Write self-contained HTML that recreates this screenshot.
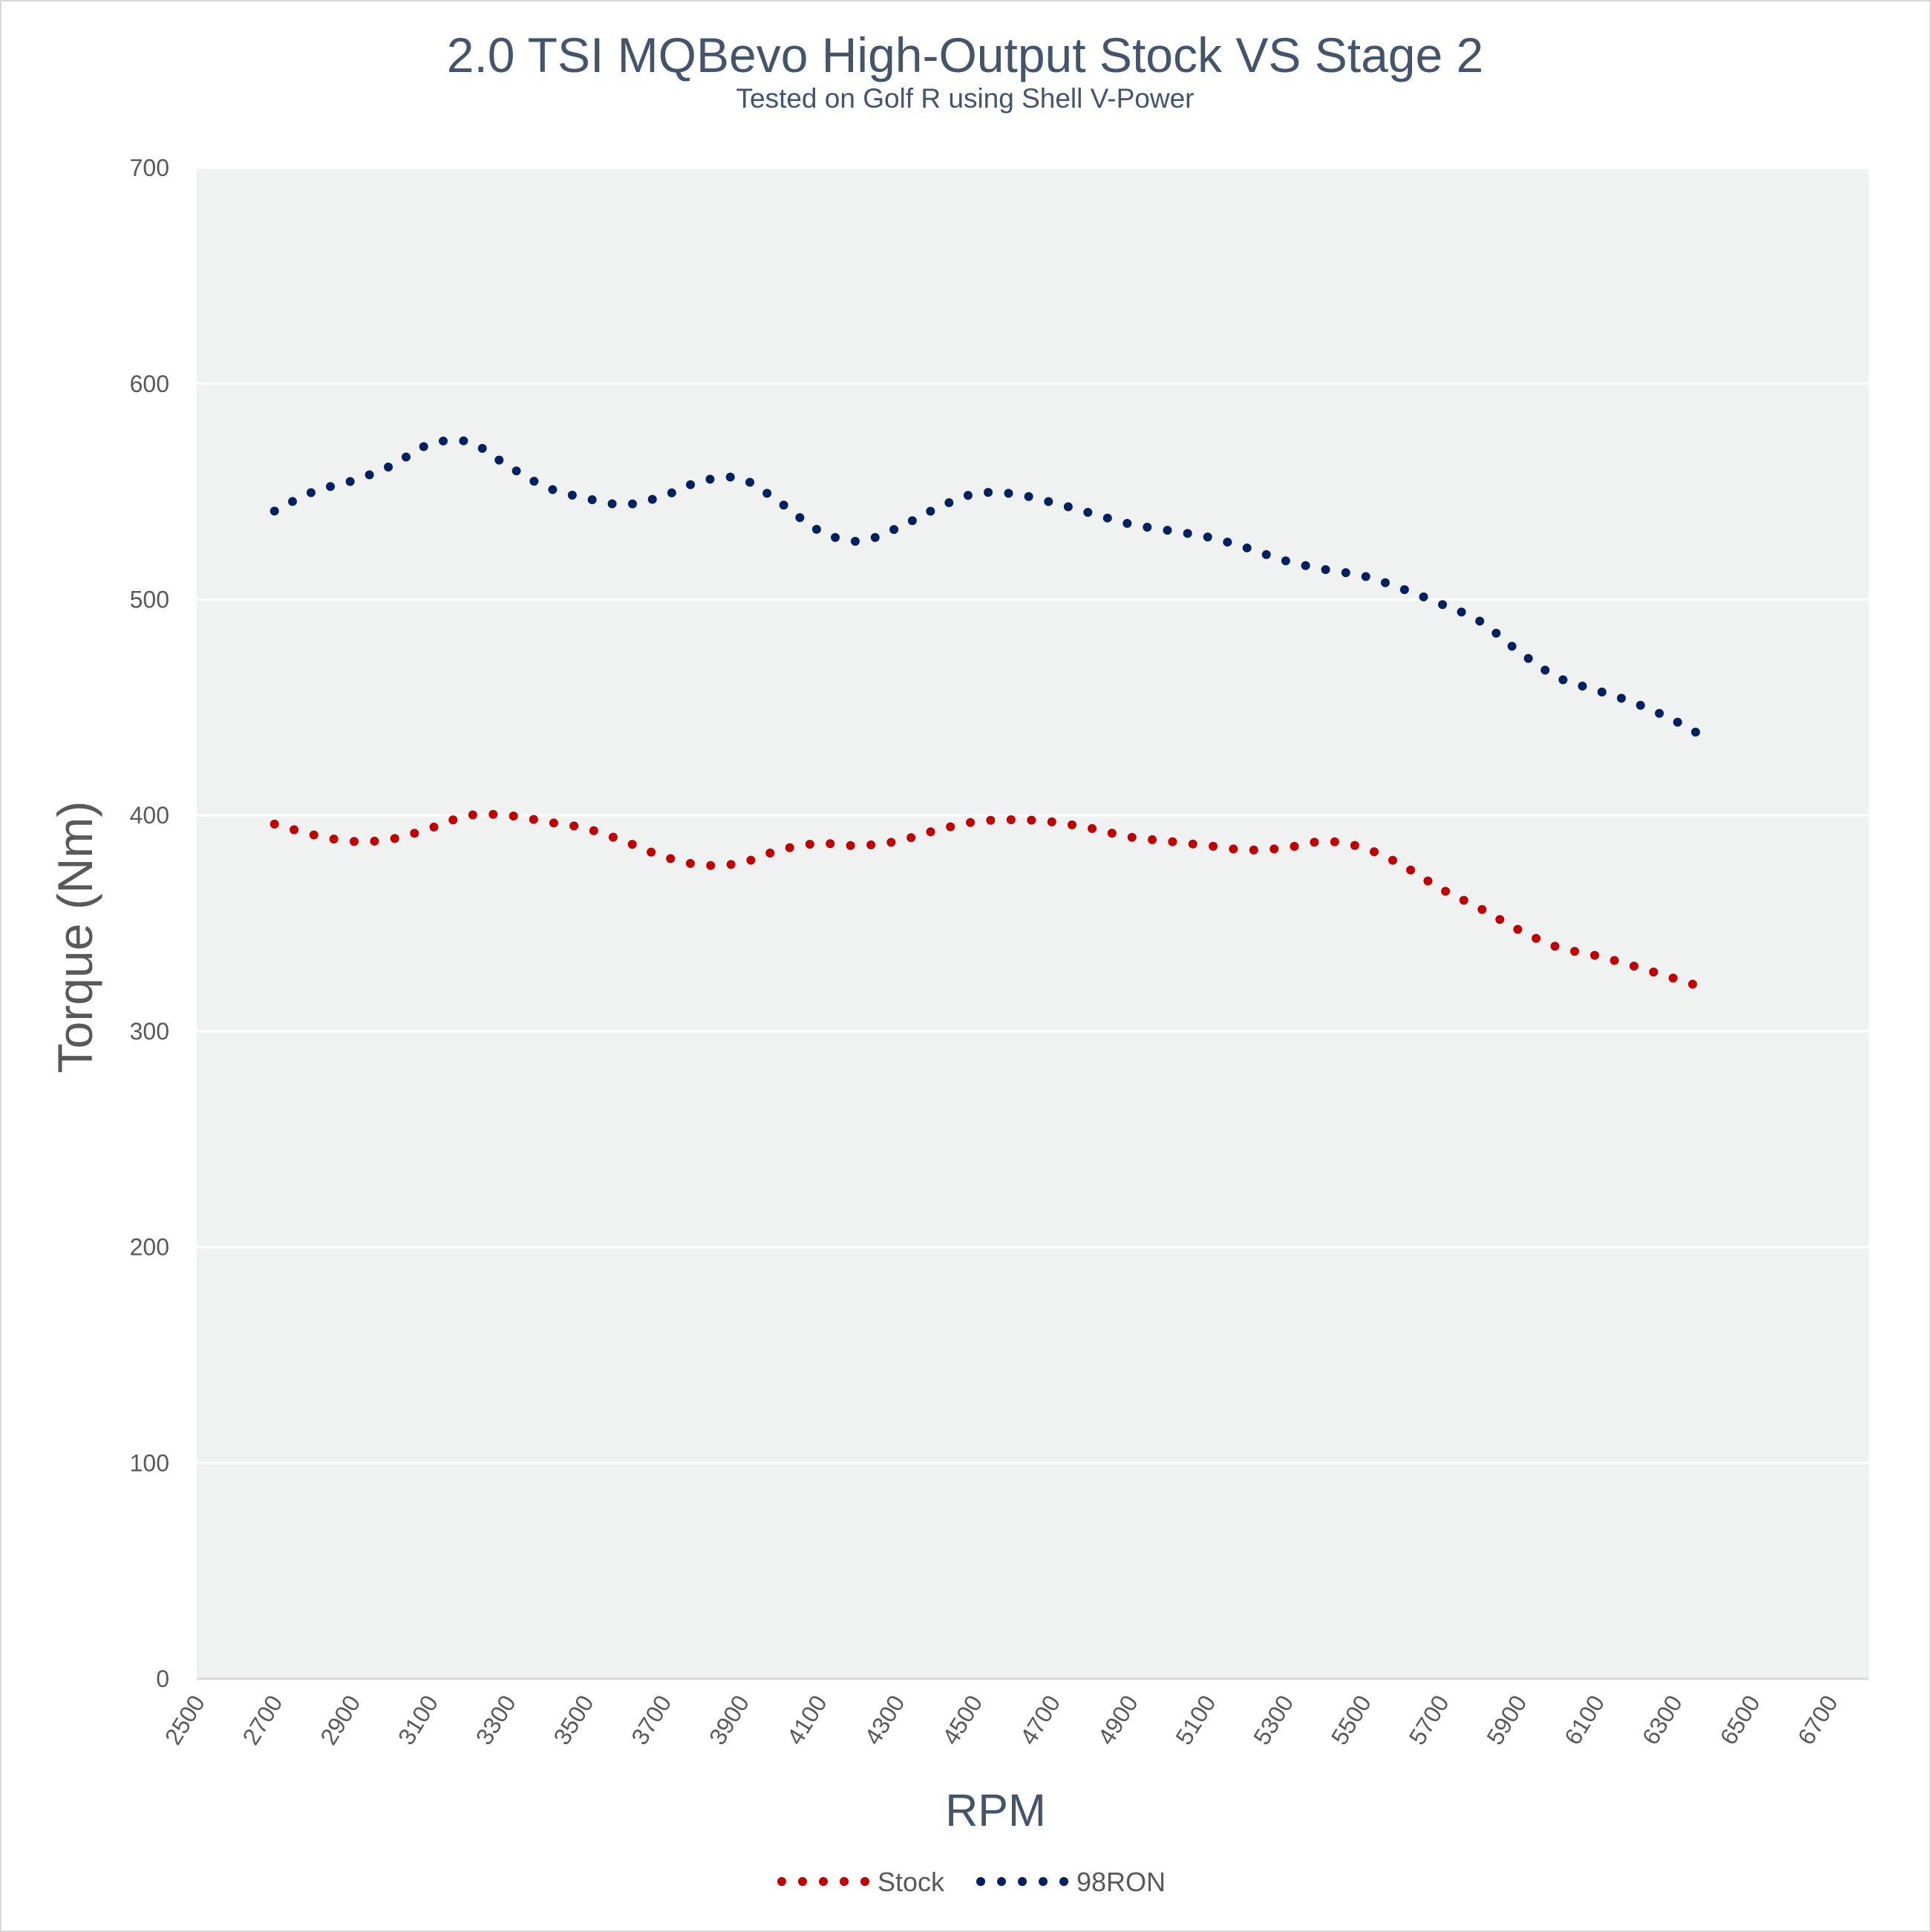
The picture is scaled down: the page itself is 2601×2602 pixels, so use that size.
<!DOCTYPE html>
<html><head><meta charset="utf-8"><style>
html,body{margin:0;padding:0;background:#fff}
svg{display:block}
text{font-family:"Liberation Sans",sans-serif}
</style></head><body>
<svg id="s" width="2601" height="2602" xmlns="http://www.w3.org/2000/svg">
<rect x="0.5" y="0.5" width="2600" height="2601" fill="#fff" stroke="#D9D9D9" stroke-width="3"/>
<text x="1300" y="97" text-anchor="middle" font-size="66" fill="#44546A">2.0 TSI MQBevo High-Output Stock VS Stage 2</text>
<text x="1300" y="145" text-anchor="middle" font-size="37" fill="#44546A">Tested on Golf R using Shell V-Power</text>
<rect x="265" y="226" width="2252" height="2035" fill="#F0F2F2"/>
<g id="grid"></g>
<line x1="265" y1="2261" x2="2517" y2="2261" stroke="#D9D9D9" stroke-width="3"/>
<g id="ylab" font-size="32" fill="#595959" text-anchor="end"></g>
<g id="xlab" font-size="32" fill="#595959" text-anchor="end"></g>
<text transform="translate(124,1262) rotate(-90)" text-anchor="middle" font-size="66" fill="#595959">Torque (Nm)</text>
<text x="1341" y="2459" text-anchor="middle" font-size="61" fill="#44546A">RPM</text>
<path id="blue" fill="none" stroke="#002060" stroke-width="12" stroke-linecap="round" stroke-dasharray="0 27.5"/>
<path id="red" fill="none" stroke="#C00000" stroke-width="12" stroke-linecap="round" stroke-dasharray="0 27.5"/>
<g>
<line x1="1053" y1="2534" x2="1166" y2="2534" stroke="#C00000" stroke-width="12" stroke-linecap="round" stroke-dasharray="0 28"/>
<text x="1182" y="2547" font-size="36" fill="#595959">Stock</text>
<line x1="1321" y1="2534" x2="1434" y2="2534" stroke="#002060" stroke-width="12" stroke-linecap="round" stroke-dasharray="0 28"/>
<text x="1450" y="2547" font-size="36" fill="#595959">98RON</text>
</g>
</svg>
<script>
var NS="http://www.w3.org/2000/svg";
function X(r){return 265+(r-2500)*0.5237;}
function Y(v){return 2261-v*2.907;}
var g=document.getElementById('grid'),yl=document.getElementById('ylab'),xl=document.getElementById('xlab');
for(var v=100;v<=700;v+=100){var l=document.createElementNS(NS,'line');l.setAttribute('x1',265);l.setAttribute('x2',2517);l.setAttribute('y1',Y(v));l.setAttribute('y2',Y(v));l.setAttribute('stroke','#fff');l.setAttribute('stroke-width',3);g.appendChild(l);}
for(var v=0;v<=700;v+=100){var t=document.createElementNS(NS,'text');t.setAttribute('x',228);t.setAttribute('y',Y(v)+11);t.textContent=v;yl.appendChild(t);}
for(var r=2500;r<=6700;r+=200){var t=document.createElementNS(NS,'text');var x=X(r)+12;t.setAttribute('transform','translate('+x+',2292) rotate(-58)');t.textContent=r;xl.appendChild(t);}
var blue=[[2700,541],[2800,550],[2900,555],[3000,562],[3100,572],[3200,573],[3300,562],[3400,552],[3500,547],[3600,544],[3700,548],[3800,555],[3900,556],[4000,545],[4100,532],[4200,527],[4300,533],[4400,542],[4500,549],[4600,549],[4700,545],[4800,540],[4900,535],[5000,532],[5100,529],[5200,524],[5300,518],[5400,514],[5500,511],[5600,505],[5700,498],[5800,490],[5900,476],[6000,464],[6100,458],[6200,452],[6300,444],[6380,436]];
var red=[[2700,396],[2800,391],[2900,388],[3000,389],[3100,394],[3200,400],[3300,400],[3400,397],[3500,394],[3600,388],[3700,381],[3800,377],[3900,378],[4000,384],[4100,387],[4200,386],[4300,388],[4400,393],[4500,397],[4600,398],[4700,397],[4800,394],[4900,390],[5000,388],[5100,386],[5200,384],[5300,385],[5400,388],[5500,385],[5600,377],[5700,366],[5800,357],[5900,347],[6000,339],[6100,335],[6200,330],[6380,320]];
function path(d){var p=d.map(function(a){return [X(a[0]),Y(a[1])]});var s='M'+p[0][0]+','+p[0][1];
for(var i=0;i<p.length-1;i++){var p0=p[i-1]||p[i],p1=p[i],p2=p[i+1],p3=p[i+2]||p2;
s+=' C'+(p1[0]+(p2[0]-p0[0])/6)+','+(p1[1]+(p2[1]-p0[1])/6)+' '+(p2[0]-(p3[0]-p1[0])/6)+','+(p2[1]-(p3[1]-p1[1])/6)+' '+p2[0]+','+p2[1];}return s;}
document.getElementById('blue').setAttribute('d',path(blue));
document.getElementById('red').setAttribute('d',path(red));
</script>
</body></html>
